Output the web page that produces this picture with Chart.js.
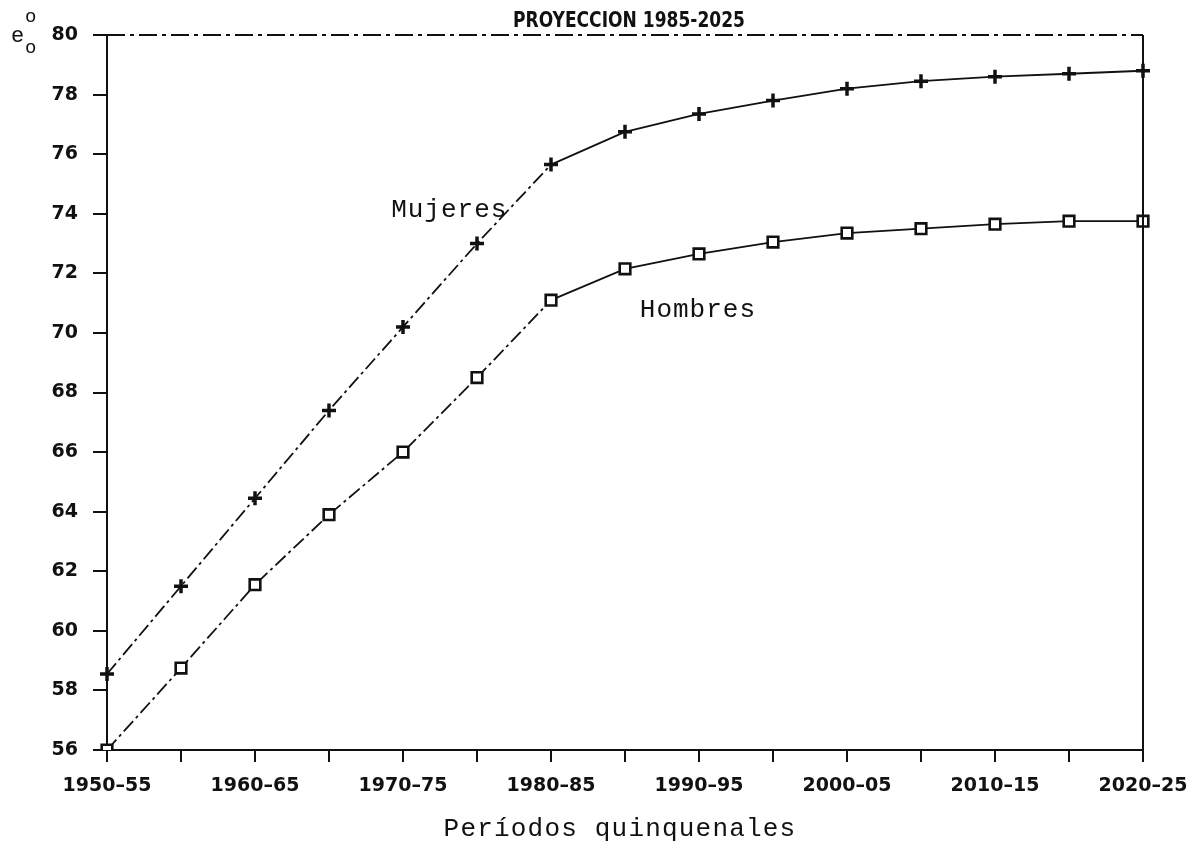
<!DOCTYPE html>
<html>
<head>
<meta charset="utf-8">
<script src="https://cdn.jsdelivr.net/npm/chart.js@4.4.1/dist/chart.umd.min.js"></script>
<style>
html,body{margin:0;padding:0;background:#fff;}
canvas{display:block;}
</style>
</head>
<body>
<canvas id="c" width="1199" height="853"></canvas>
<script>
// ---- data ----
const categories = ['1950–55','1955–60','1960–65','1965–70','1970–75','1975–80','1980–85',
  '1985–90','1990–95','1995–00','2000–05','2005–10','2010–15','2015–20','2020–25'];
const mujeres = [58.55, 61.5, 64.45, 67.4, 70.2, 73.0, 75.65, 76.75, 77.35, 77.8, 78.2, 78.45, 78.6, 78.7, 78.8];
const hombres = [56.0, 58.75, 61.55, 63.9, 66.0, 68.5, 71.1, 72.15, 72.65, 73.05, 73.35, 73.5, 73.65, 73.75, 73.75];
const yMin = 56, yMax = 80, yStep = 2;
const titleText = 'PROYECCION 1985-2025';
const xTitle = 'Períodos quinquenales';
const seriesNames = ['Mujeres', 'Hombres'];

const INK = '#111';
const dashSteep = [14, 4, 3, 4];

const textPlugin = {
  id: 'texts',
  afterDraw(chart) {
    const ctx = chart.ctx;
    const ca = chart.chartArea;
    const xs = chart.scales.x, ys = chart.scales.y;
    ctx.save();
    ctx.fillStyle = INK;
    ctx.strokeStyle = INK;

    // frame: top (broken) and right (solid)
    ctx.lineWidth = 2;
    ctx.setLineDash([18, 5, 4, 5]);
    ctx.beginPath();
    ctx.moveTo(ca.left, ca.top);
    ctx.lineTo(ca.right, ca.top);
    ctx.stroke();
    ctx.setLineDash([]);
    ctx.beginPath();
    ctx.moveTo(ca.right, ca.top);
    ctx.lineTo(ca.right, ca.bottom);
    ctx.stroke();

    // title (condensed bold)
    ctx.font = "bold 22px 'Liberation Sans Narrow', 'DejaVu Sans Condensed', 'DejaVu Sans', sans-serif";
    ctx.textBaseline = 'alphabetic';
    ctx.textAlign = 'left';
    const tw = ctx.measureText(titleText).width;
    const target = 232;
    const cx = (ca.left + ca.right) / 2 + 4;
    ctx.save();
    ctx.translate(cx - target / 2, 27);
    ctx.scale(target / tw, 1);
    ctx.fillText(titleText, 0, 0);
    ctx.restore();

    // y-axis symbol e°o
    ctx.font = "22px 'Liberation Mono', 'DejaVu Sans Mono', monospace";
    ctx.fillText('e', 11, 42);
    ctx.font = "19px 'Liberation Mono', 'DejaVu Sans Mono', monospace";
    ctx.fillText('o', 25, 22);
    ctx.fillText('o', 25, 53);

    // series labels (typewriter style)
    ctx.font = "26px 'Liberation Mono', 'DejaVu Sans Mono', monospace";
    try { ctx.letterSpacing = '1px'; } catch (e) {}
    ctx.fillText(seriesNames[0], xs.getPixelForValue(3.84), ys.getPixelForValue(73.9));
    ctx.fillText(seriesNames[1], xs.getPixelForValue(7.2), ys.getPixelForValue(70.55));

    // x axis title
    ctx.textAlign = 'center';
    try { ctx.letterSpacing = '1.2px'; } catch (e) {}
    ctx.fillText(xTitle, (ca.left + ca.right) / 2 - 5, 836);
    ctx.restore();
  }
};

const tickFont = { family: "'DejaVu Sans', sans-serif", weight: 'bold', size: 19 };

new Chart(document.getElementById('c'), {
  type: 'line',
  data: {
    labels: categories,
    datasets: [
      {
        label: seriesNames[0],
        data: mujeres,
        borderColor: INK,
        borderWidth: 1.8,
        pointStyle: 'cross',
        pointRadius: 7,
        pointBorderWidth: 3.5,
        pointBorderColor: INK,
        tension: 0,
        segment: { borderDash: c => (c.p1DataIndex <= 6 ? dashSteep : undefined) }
      },
      {
        label: seriesNames[1],
        data: hombres,
        borderColor: INK,
        borderWidth: 1.8,
        pointStyle: 'rect',
        pointRadius: 7.5,
        pointBorderWidth: 2.6,
        pointBorderColor: INK,
        pointBackgroundColor: '#fff',
        tension: 0,
        segment: { borderDash: c => (c.p1DataIndex <= 6 ? dashSteep : undefined) }
      }
    ]
  },
  options: {
    responsive: false,
    animation: false,
    devicePixelRatio: 1,
    layout: { padding: { top: 35, right: 56, left: 0, bottom: 0 } },
    plugins: { legend: { display: false }, tooltip: { enabled: false }, title: { display: false } },
    scales: {
      x: {
        type: 'category',
        offset: false,
        afterFit: s => { s.height = 103; s.paddingLeft = 0; s.paddingRight = 0; },
        grid: { drawOnChartArea: false, drawTicks: true, tickLength: 12, color: INK, lineWidth: 2 },
        border: { display: true, color: INK, width: 2, dash: [18, 5, 4, 5] },
        ticks: {
          autoSkip: false, maxRotation: 0, minRotation: 0,
          color: INK, font: tickFont, padding: 13,
          callback: (v, i) => (i % 2 === 0 ? categories[i] : '')
        }
      },
      y: {
        min: yMin, max: yMax,
        afterFit: s => { s.width = 107; },
        grid: { drawOnChartArea: false, drawTicks: true, tickLength: 14, color: INK, lineWidth: 2 },
        border: { display: true, color: INK, width: 2, dash: [18, 5, 4, 5] },
        ticks: { stepSize: yStep, color: INK, font: tickFont, padding: 15 }
      }
    }
  },
  plugins: [textPlugin]
});
</script>
</body>
</html>
